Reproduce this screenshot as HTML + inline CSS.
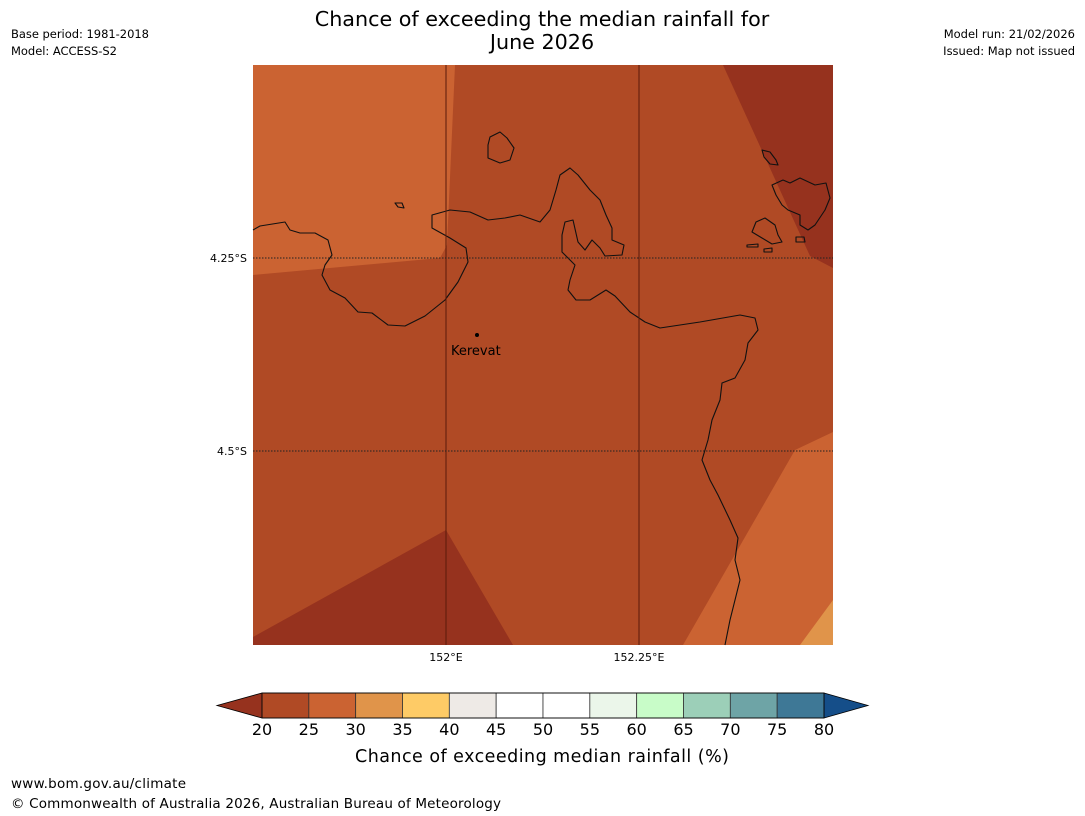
<!DOCTYPE html>
<html><head><meta charset="utf-8"><style>
body{margin:0;background:#fff;width:1085px;height:816px;overflow:hidden;font-family:"Liberation Sans","DejaVu Sans",sans-serif}
</style></head><body>
<svg width="1085" height="816" style="position:absolute;left:0;top:0" font-family="DejaVu Sans, Liberation Sans, sans-serif">
<text x="542" y="26" text-anchor="middle" font-size="20.7">Chance of exceeding the median rainfall for</text>
<text x="542" y="49" text-anchor="middle" font-size="20.7">June 2026</text>
<text x="11" y="38" font-size="11.5" textLength="138">Base period: 1981-2018</text>
<text x="11" y="55" font-size="11.5" textLength="106">Model: ACCESS-S2</text>
<text x="1075" y="38" font-size="11.5" text-anchor="end">Model run: 21/02/2026</text>
<text x="1075" y="55" font-size="11.5" text-anchor="end">Issued: Map not issued</text>
<g>
<rect x="253" y="65" width="580" height="580" fill="#b04a25"/>
<polygon points="253,65 455,65 447,245 440,258 253,275" fill="#cb6332"/>
<polygon points="723,65 833,65 833,268 810,256" fill="#96321e"/>
<polygon points="833,432 795,450 683,645 833,645" fill="#cb6332"/>
<polygon points="833,600 800,645 833,645" fill="#e0944a"/>
<polygon points="253,637 446,530 513,645 253,645" fill="#96321e"/>
<g fill="none" stroke="#111" stroke-width="1.1" stroke-linejoin="round">
<path d="M253,230 L260,226 285,222 290,230 300,233 315,233 328,240 332,255 325,265 322,275 330,290 345,298 358,312 372,313 388,325 405,326 425,316 445,300 458,282 468,262 466,248 450,238 432,228 432,215 450,210 470,212 488,220 505,218 520,215 540,222 550,210 556,190 560,175 570,168 578,175 590,190 600,200 606,215 612,228 612,240 624,245 622,255 605,256 600,248 592,240 585,250 578,242 573,220 565,222 562,235 562,252 575,265 570,280 568,290 576,300 590,300 606,290 615,296 630,312 645,322 660,328 680,325 700,322 740,315 755,318 758,330 748,343 745,360 735,378 722,383 720,400 712,420 708,440 702,460 710,480 718,495 730,520 738,538 735,560 740,580 735,600 730,620 725,645"/>
<path d="M490,137 L500,132 507,138 514,148 510,160 500,163 488,158 488,145Z"/>
<path d="M395,203 L402,203 404,208 398,207Z"/>
<path d="M762,150 L770,152 776,160 778,165 770,164 764,157Z"/>
<path d="M772,185 L783,180 790,183 800,178 815,185 826,183 830,198 825,210 815,225 808,230 800,225 800,215 788,210 782,205 776,195Z"/>
<path d="M756,222 L765,218 775,225 778,235 782,242 772,244 762,238 752,232Z"/>
<path d="M747,245 L758,244 758,247 747,247Z"/>
<path d="M764,249 L772,248 772,252 764,252Z"/>
<path d="M796,237 L804,237 805,242 796,242Z"/>
</g>
<g stroke="#5a1a0a" stroke-width="1">
<line x1="446" y1="65" x2="446" y2="645"/><line x1="639" y1="65" x2="639" y2="645"/>
<line x1="253" y1="258" x2="833" y2="258" stroke-dasharray="1.5,1.5" stroke="#222"/>
<line x1="253" y1="451" x2="833" y2="451" stroke-dasharray="1.5,1.5" stroke="#222"/>
</g>
<circle cx="477" cy="335" r="2" fill="#000"/>
<text x="451" y="355" font-size="13">Kerevat</text>
<text x="247" y="262" font-size="11" text-anchor="end">4.25°S</text>
<text x="247" y="455" font-size="11" text-anchor="end">4.5°S</text>
<text x="446" y="661" font-size="11" text-anchor="middle">152°E</text>
<text x="639" y="661" font-size="11" text-anchor="middle">152.25°E</text>
</g>
<g id="cbar"></g>
<text x="542" y="762" font-size="17.5" text-anchor="middle" textLength="374">Chance of exceeding median rainfall (%)</text>
<text x="11" y="788" font-size="13.5" textLength="175">www.bom.gov.au/climate</text>
<text x="11" y="808" font-size="13.5" textLength="490">© Commonwealth of Australia 2026, Australian Bureau of Meteorology</text>
</svg>
<script>
const levels=[20,25,30,35,40,45,50,55,60,65,70,75,80];
const binColors=["#b04a25","#cb6332","#e0944a","#fecb66","#eeeae6","#ffffff","#ffffff","#ebf6ea","#c8fcc8","#9ccfb8","#6ea4a6","#3e7896"];
const underColor="#96321e", overColor="#154e89";
const g=document.getElementById('cbar');const NS="http://www.w3.org/2000/svg";
const x0=262,x1=824,y0=693,y1=718;
const sx=v=>x0+(v-levels[0])/(levels[levels.length-1]-levels[0])*(x1-x0);
function mk(t,a){const e=document.createElementNS(NS,t);for(const k in a)e.setAttribute(k,a[k]);g.appendChild(e);return e;}
let p=mk('polygon',{points:`${x0},${y0} 217,${(y0+y1)/2} ${x0},${y1}`,fill:underColor,stroke:'#000','stroke-width':0.8});


p=mk('polygon',{points:`${x1},${y0} 868,${(y0+y1)/2} ${x1},${y1}`,fill:overColor,stroke:'#000','stroke-width':0.8});


for(let i=0;i<binColors.length;i++){
 const r=mk('rect',{x:sx(levels[i]),y:y0,width:sx(levels[i+1])-sx(levels[i]),height:y1-y0,fill:binColors[i],stroke:'#333','stroke-width':0.8});
 
 
}
mk('rect',{x:x0,y:y0,width:x1-x0,height:y1-y0,fill:'none',stroke:'#000','stroke-width':0.8});
levels.forEach(v=>{
 const t=mk('text',{x:sx(v),y:735,'font-size':16,'text-anchor':'middle'});t.textContent=v;
 
 
});
</script>
</body></html>
